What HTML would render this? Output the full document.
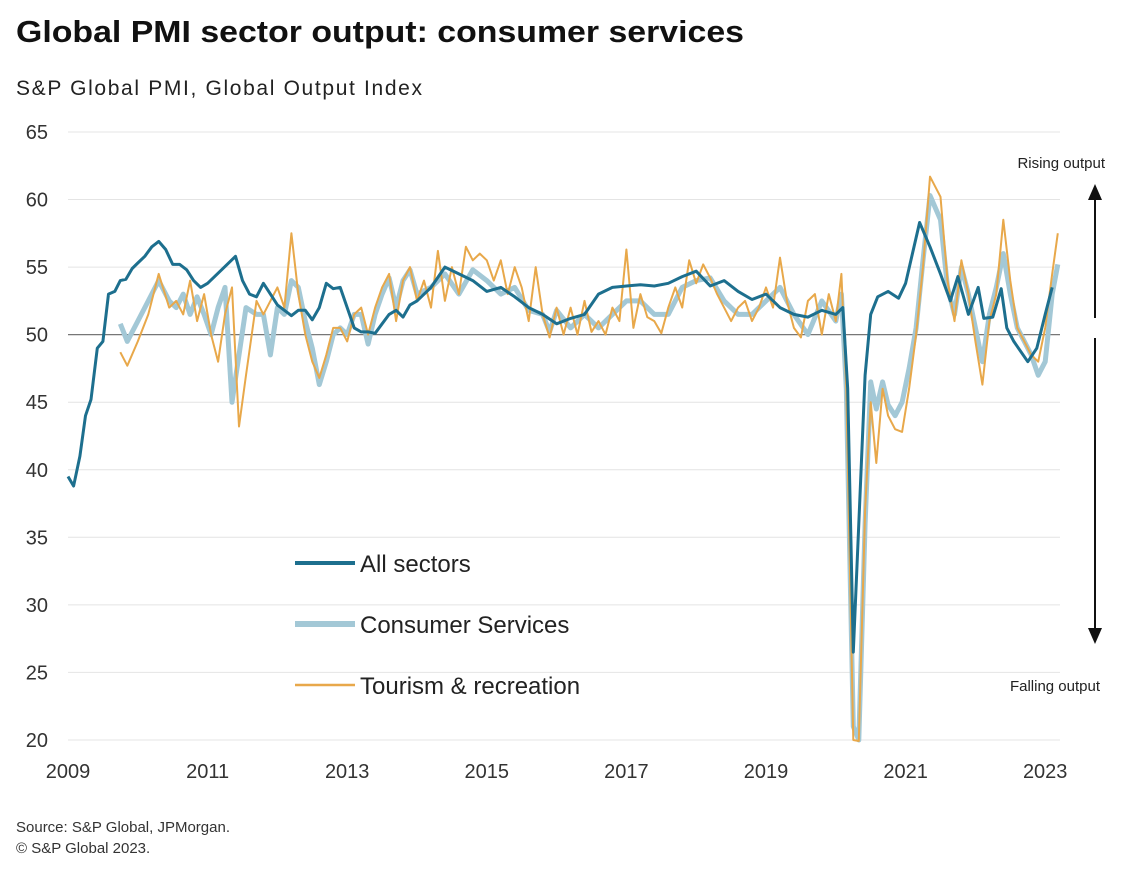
<!DOCTYPE html>
<html><head><meta charset="utf-8">
<style>
body{margin:0;background:#fff;font-family:"Liberation Sans",Arial,sans-serif;}
svg text{font-family:"Liberation Sans",Arial,sans-serif;}
</style></head>
<body>
<svg id="chart" width="1148" height="868" viewBox="0 0 1148 868">
<text x="16" y="42" font-size="31" font-weight="bold" fill="#111" textLength="728" lengthAdjust="spacingAndGlyphs">Global PMI sector output: consumer services</text>
<text x="16" y="95" font-size="21" fill="#222" textLength="406" lengthAdjust="spacing">S&amp;P Global PMI, Global Output Index</text>
<g id="grid"></g>
<g id="yticks"></g>
<g id="xticks"></g>
<g id="series"></g>
<g>
<line x1="295" y1="563" x2="355" y2="563" stroke="#1d6f8e" stroke-width="4"/>
<text x="360" y="572" font-size="24" fill="#222">All sectors</text>
<line x1="295" y1="624" x2="355" y2="624" stroke="#a3c8d6" stroke-width="6"/>
<text x="360" y="633" font-size="24" fill="#222">Consumer Services</text>
<line x1="295" y1="685" x2="355" y2="685" stroke="#e8a84a" stroke-width="2.5"/>
<text x="360" y="694" font-size="24" fill="#222">Tourism &amp; recreation</text>
</g>
<g>
<text x="1105" y="168" font-size="15" fill="#222" text-anchor="end">Rising output</text>
<line x1="1095" y1="195" x2="1095" y2="318" stroke="#111" stroke-width="2"/>
<polygon points="1088,200 1102,200 1095,184" fill="#111"/>
<line x1="1095" y1="338" x2="1095" y2="632" stroke="#111" stroke-width="2"/>
<polygon points="1088,628 1102,628 1095,644" fill="#111"/>
<text x="1100" y="691" font-size="15" fill="#222" text-anchor="end">Falling output</text>
</g>
<text x="16" y="832" font-size="15" fill="#333">Source: S&amp;P Global, JPMorgan.</text>
<text x="16" y="853" font-size="15" fill="#333">© S&amp;P Global 2023.</text>
</svg>
<script>
const yTicks=[20,25,30,35,40,45,50,55,60,65];
const xTickYears=[2009,2011,2013,2015,2017,2019,2021,2023];
const allDates=[2009.0,2009.08,2009.17,2009.25,2009.33,2009.42,2009.5,2009.58,2009.67,2009.75,2009.83,2009.92,2010.0,2010.1,2010.2,2010.3,2010.4,2010.5,2010.6,2010.7,2010.8,2010.9,2011.0,2011.2,2011.4,2011.5,2011.6,2011.7,2011.8,2011.9,2012.0,2012.2,2012.3,2012.4,2012.5,2012.6,2012.7,2012.8,2012.9,2013.0,2013.1,2013.2,2013.3,2013.4,2013.5,2013.6,2013.7,2013.8,2013.9,2014.0,2014.2,2014.4,2014.6,2014.8,2015.0,2015.2,2015.4,2015.6,2015.8,2016.0,2016.2,2016.4,2016.6,2016.8,2017.0,2017.2,2017.4,2017.6,2017.8,2018.0,2018.2,2018.4,2018.6,2018.8,2019.0,2019.2,2019.4,2019.6,2019.8,2020.0,2020.1,2020.17,2020.25,2020.33,2020.42,2020.5,2020.6,2020.75,2020.9,2021.0,2021.2,2021.35,2021.5,2021.64,2021.75,2021.9,2022.04,2022.12,2022.25,2022.37,2022.45,2022.55,2022.75,2022.88,2023.0,2023.1,2023.18];
const allValues=[39.5,38.8,41,44,45.2,49,49.5,53,53.2,54,54.1,54.9,55.3,55.8,56.5,56.9,56.3,55.2,55.2,54.8,54,53.5,53.8,54.8,55.8,54,53,52.8,53.8,53,52.2,51.4,51.8,51.8,51.1,52,53.8,53.4,53.5,52,50.5,50.2,50.2,50.1,50.8,51.5,51.8,51.3,52.2,52.5,53.5,55,54.5,54,53.2,53.5,52.8,52,51.5,50.8,51.2,51.5,53,53.5,53.6,53.7,53.6,53.8,54.3,54.7,53.6,54,53.2,52.6,53,52,51.5,51.3,51.8,51.5,52,46,26.5,36,47,51.5,52.8,53.2,52.7,53.8,58.3,56.5,54.5,52.5,54.3,51.5,53.5,51.2,51.3,53.4,50.5,49.5,48,49,51.5,53.5];
const consDates=[2009.75,2009.85,2010.0,2010.15,2010.3,2010.45,2010.55,2010.65,2010.75,2010.85,2010.95,2011.05,2011.15,2011.25,2011.35,2011.45,2011.55,2011.7,2011.8,2011.9,2012.0,2012.1,2012.2,2012.3,2012.4,2012.5,2012.6,2012.7,2012.8,2012.9,2013.0,2013.1,2013.2,2013.3,2013.4,2013.5,2013.6,2013.7,2013.8,2013.9,2014.0,2014.2,2014.4,2014.6,2014.8,2015.0,2015.2,2015.4,2015.6,2015.8,2015.9,2016.0,2016.2,2016.4,2016.6,2016.8,2017.0,2017.2,2017.4,2017.6,2017.8,2018.0,2018.2,2018.4,2018.6,2018.8,2019.0,2019.2,2019.4,2019.6,2019.8,2020.0,2020.08,2020.15,2020.25,2020.33,2020.42,2020.5,2020.58,2020.67,2020.75,2020.85,2020.95,2021.05,2021.15,2021.25,2021.35,2021.5,2021.6,2021.7,2021.8,2021.9,2022.0,2022.1,2022.2,2022.3,2022.4,2022.5,2022.6,2022.7,2022.8,2022.9,2023.0,2023.1,2023.18];
const consValues=[50.8,49.5,51,52.5,54,52.5,52,53,51.5,52.8,51.5,50,52,53.5,45,48.5,52,51.5,51.5,48.5,52,51.5,54,53.5,51,49,46.3,48,50,50.5,50,51.5,51.5,49.3,51.5,53,54.2,52,54,54.8,53,53.5,54.5,53,54.8,54,53,53.5,51.8,51.5,50.2,51.8,50.5,51.5,50.5,51.5,52.5,52.5,51.5,51.5,53.5,54,54.2,52.5,51.5,51.5,52.5,53.5,51.5,50,52.5,51,53,46,21,20,36,46.5,44.5,46.5,44.8,44,45,47.5,50.5,55.5,60.3,58.5,53.5,51.5,55,53,50.5,48,51.5,53.5,56,53,50.5,49.5,48.5,47,48,53,55.2];
const tourDates=[2009.75,2009.85,2010.0,2010.15,2010.3,2010.45,2010.55,2010.65,2010.75,2010.85,2010.95,2011.05,2011.15,2011.25,2011.35,2011.45,2011.55,2011.7,2011.8,2011.9,2012.0,2012.1,2012.2,2012.3,2012.4,2012.5,2012.6,2012.7,2012.8,2012.9,2013.0,2013.1,2013.2,2013.3,2013.4,2013.5,2013.6,2013.7,2013.8,2013.9,2014.0,2014.1,2014.2,2014.3,2014.4,2014.5,2014.6,2014.7,2014.8,2014.9,2015.0,2015.1,2015.2,2015.3,2015.4,2015.5,2015.6,2015.7,2015.8,2015.9,2016.0,2016.1,2016.2,2016.3,2016.4,2016.5,2016.6,2016.7,2016.8,2016.9,2017.0,2017.1,2017.2,2017.3,2017.4,2017.5,2017.6,2017.7,2017.8,2017.9,2018.0,2018.1,2018.2,2018.3,2018.4,2018.5,2018.6,2018.7,2018.8,2018.9,2019.0,2019.1,2019.2,2019.3,2019.4,2019.5,2019.6,2019.7,2019.8,2019.9,2020.0,2020.08,2020.15,2020.25,2020.33,2020.42,2020.5,2020.58,2020.67,2020.75,2020.85,2020.95,2021.05,2021.15,2021.25,2021.35,2021.5,2021.6,2021.7,2021.8,2021.9,2022.0,2022.1,2022.2,2022.3,2022.4,2022.5,2022.6,2022.7,2022.8,2022.9,2023.0,2023.1,2023.18];
const tourValues=[48.7,47.7,49.5,51.5,54.5,52,52.5,51.5,54,51,53,50,48,51.5,53.5,43.2,47,52.5,51.5,52.5,53.5,52,57.5,53,50,48,46.8,48.5,50.5,50.5,49.5,51.5,52,50,52,53.5,54.5,51,54,55,52.5,54,52,56.2,52.5,55,53,56.5,55.5,56,55.5,54,55.5,53,55,53.5,51,55,51.5,49.8,52,50,52,50,52.5,50.2,51,50,52,51,56.3,50.5,53,51.3,51,50.1,52,53.5,52,55.5,53.8,55.2,54.2,53,52,51,52,52.5,51,52,53.5,52,55.7,52.5,50.5,49.8,52.5,53,50,53,51,54.5,46,20,19.5,37,45,40.5,46,44,43,42.8,46,50,55,61.7,60.2,54,51,55.5,53,49.5,46.3,51,53,58.5,54,50.5,49.5,48.5,48,50.5,54.5,57.5];

const NS='http://www.w3.org/2000/svg';
const X0=68,PX=69.8,Y0=132,PY=13.51;
function xs(t){return X0+(t-2009)*PX;}
function ys(v){return Y0+(65-v)*PY;}
function el(tag,attrs,parent){const e=document.createElementNS(NS,tag);for(const k in attrs)e.setAttribute(k,attrs[k]);parent.appendChild(e);return e;}
const grid=document.getElementById('grid'),yt=document.getElementById('yticks'),xt=document.getElementById('xticks'),sg=document.getElementById('series');
yTicks.forEach(v=>{
  if(v!==50){const g=el('line',{x1:68,x2:1060,y1:ys(v),y2:ys(v),stroke:'#e4e4e4','stroke-width':1},grid);
  
  }
  const t=el('text',{x:48,y:ys(v)+7,'font-size':20,fill:'#333','text-anchor':'end'},yt);
  t.textContent=v;
  
  
});
const base=el('line',{x1:68,x2:1060,y1:ys(50),y2:ys(50),stroke:'#777','stroke-width':1.3},grid);


xTickYears.forEach(yr=>{
  const t=el('text',{x:xs(yr),y:778,'font-size':20,fill:'#333','text-anchor':'middle'},xt);
  t.textContent=yr;
  
  
});
function line(d,v,color,w,name){
  const p=d.map((t,i)=>(i?'L':'M')+xs(t).toFixed(1)+','+Math.min(ys(v[i]),741).toFixed(1)).join('');
  const e=el('path',{d:p,fill:'none',stroke:color,'stroke-width':w,'stroke-linejoin':'round'},sg);
  
  
}
line(consDates,consValues,'#a3c8d6',5,'consumer-services-line');
line(tourDates,tourValues,'#e8a84a',2,'tourism-recreation-line');
line(allDates,allValues,'#1d6f8e',3,'all-sectors-line');
</script>
</body></html>
